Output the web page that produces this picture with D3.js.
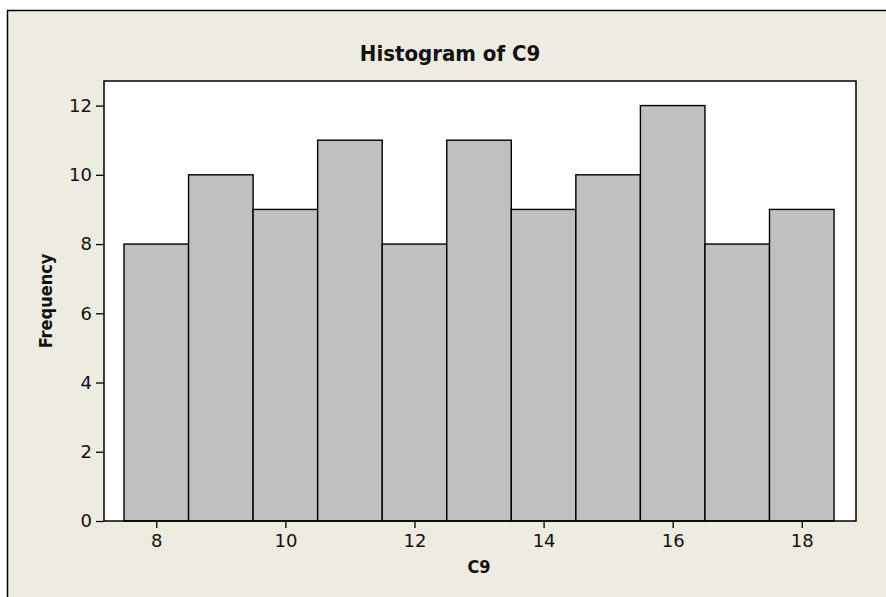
<!DOCTYPE html>
<html>
<head>
<meta charset="utf-8">
<script src="https://cdn.jsdelivr.net/npm/d3@7"></script>
<style>
  body { margin: 0; background: #fff; }
  svg text { font-family: "DejaVu Sans Condensed", "DejaVu Sans", sans-serif; fill: #111; }
  svg .tick text { font-family: "DejaVu Sans", sans-serif; }
</style>
</head>
<body>
<svg id="chart" width="886" height="597"></svg>
<script>
// histogram bins (centre of each bar) and their counts
const binCenters = [8, 9, 10, 11, 12, 13, 14, 15, 16, 17, 18];
const frequencies = [8, 10, 9, 11, 8, 11, 9, 10, 12, 8, 9];
const xTicks = [8, 10, 12, 14, 16, 18];
const yTicks = [0, 2, 4, 6, 8, 10, 12];
const BIN_WIDTH = 1;

const svg = d3.select("#chart");

// outer panel (runs off the right and bottom of the picture)
svg.append("rect")
  .attr("x", 7.5).attr("y", 10.5)
  .attr("width", 900).attr("height", 600)
  .attr("fill", "#EEEBE1")
  .attr("stroke", "#000")
  .attr("stroke-width", 1.5);

const plot = { left: 104, top: 81, right: 856, bottom: 521 };

const x = d3.scaleLinear().domain([7.19, 18.84]).range([plot.left, plot.right]);
const y = d3.scaleLinear().domain([0, 12.71]).range([plot.bottom, plot.top]);

svg.append("rect")
  .attr("x", plot.left).attr("y", plot.top)
  .attr("width", plot.right - plot.left).attr("height", plot.bottom - plot.top)
  .attr("fill", "#fff");

svg.append("g")
  .selectAll("rect")
  .data(binCenters)
  .enter()
  .append("rect")
  .attr("x", (d) => x(d - BIN_WIDTH / 2))
  .attr("width", (d) => x(d + BIN_WIDTH / 2) - x(d - BIN_WIDTH / 2))
  .attr("y", (d, i) => y(frequencies[i]))
  .attr("height", (d, i) => y(0) - y(frequencies[i]))
  .attr("fill", "#C0C0C0")
  .attr("stroke", "#000")
  .attr("stroke-width", 1.4);

svg.append("rect")
  .attr("x", plot.left).attr("y", plot.top)
  .attr("width", plot.right - plot.left).attr("height", plot.bottom - plot.top)
  .attr("fill", "none")
  .attr("stroke", "#000")
  .attr("stroke-width", 1.5);

const xAxis = svg.append("g")
  .attr("transform", `translate(0,${plot.bottom})`)
  .call(d3.axisBottom(x).tickValues(xTicks).tickSize(7).tickPadding(6).tickSizeOuter(0));
const yAxis = svg.append("g")
  .attr("transform", `translate(${plot.left},0)`)
  .call(d3.axisLeft(y).tickValues(yTicks).tickSize(8).tickPadding(4).tickSizeOuter(0));

[xAxis, yAxis].forEach(g => {
  g.select(".domain").remove();
  g.selectAll(".tick line").attr("stroke", "#000").attr("stroke-width", 1.3);
  g.selectAll(".tick text").attr("font-size", 18).attr("fill", "#111");
});

svg.append("text")
  .attr("x", 450).attr("y", 61)
  .attr("text-anchor", "middle")
  .attr("font-size", 22)
  .attr("font-weight", "bold")
  .text("Histogram of C9");

svg.append("text")
  .attr("x", 479).attr("y", 573)
  .attr("text-anchor", "middle")
  .attr("font-size", 18)
  .attr("font-weight", "bold")
  .text("C9");

svg.append("text")
  .attr("transform", "translate(52,301) rotate(-90)")
  .attr("text-anchor", "middle")
  .attr("font-size", 18)
  .attr("font-weight", "bold")
  .text("Frequency");
</script>
</body>
</html>
